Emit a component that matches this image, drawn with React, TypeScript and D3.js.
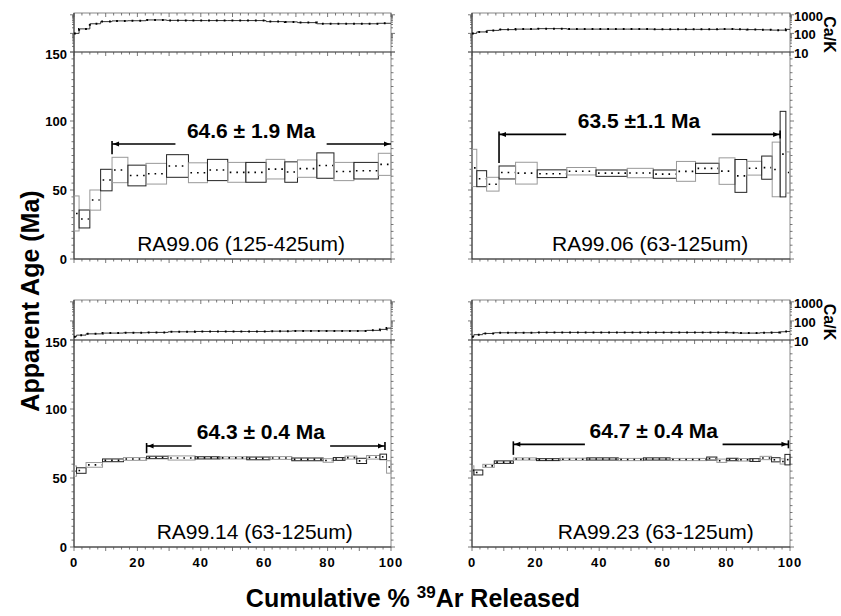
import React from 'react';
import * as d3 from 'd3';

// step boundaries (cumulative % 39Ar), apparent ages, 1-sigma errors and Ca/K for each sample
const bounds1 = [0, 1.6, 5, 8.4, 12, 17, 22.7, 29.2, 36.1, 42.1, 48.5, 54.2, 60.6, 66.5, 70.5, 76.6, 82, 88.3, 96, 100];
const ages1 = [33, 29, 42.7, 57.2, 64.5, 60.5, 61.8, 67.4, 62.5, 64.5, 62.8, 62.8, 65.1, 63, 65.5, 67.7, 63.4, 64, 68.6];
const errs1 = [12.7, 6.5, 7.3, 7.8, 9.2, 7.5, 7.5, 8.2, 7.2, 7.7, 7.2, 7.2, 7.1, 7.4, 6.3, 9.2, 6.6, 6, 8];
const calk1 = [100, 175, 330, 430, 470, 480, 530, 500, 490, 490, 490, 490, 430, 415, 380, 330, 330, 330, 350];

const bounds2 = [0, 1.5, 4.6, 8.5, 13.7, 20.5, 29.8, 39, 48.8, 57, 64.3, 70.3, 77.7, 82.7, 86.4, 91.1, 94.4, 96.9, 98.7, 100];
const ages2 = [66, 58.2, 54.2, 62.7, 62.2, 61.8, 63.6, 62.2, 62.3, 61.5, 63.5, 65.7, 63.7, 60.2, 65.8, 66.2, 64.9, 76, 62.7];
const errs2 = [13.5, 5.8, 5, 4.7, 7.9, 2.8, 2.7, 2.3, 3.4, 3, 7.2, 3.7, 9.6, 11.9, 5, 8.4, 19.8, 31, 14.9];
const calk2 = [100, 120, 145, 160, 170, 180, 170, 170, 170, 165, 165, 165, 170, 165, 160, 155, 150, 150, 165];

const bounds3 = [0, 0.8, 3.8, 9, 15.6, 22.9, 29.7, 38.2, 46, 54.5, 61.8, 68.7, 78.6, 81.8, 85.5, 89.2, 92.3, 96.5, 98.6, 100];
const ages3 = [55, 55.4, 59.5, 62.8, 63.8, 64.9, 64.5, 64.6, 64.6, 64.2, 64.5, 63.5, 62.7, 63.8, 64.8, 62.4, 65, 65.3, 58];
const errs3 = [3.7, 2, 1.7, 1, 1, 0.9, 1.5, 0.8, 0.8, 1, 1, 1, 1.3, 1, 1.1, 1.9, 1.3, 2, 4.5];
const calk3 = [15, 18, 21, 23, 24, 25, 27, 28, 28, 28, 29, 30, 30, 30, 30, 30, 32, 36, 42];

const bounds4 = [0, 0.6, 3.4, 7, 13, 20.3, 27.7, 36.1, 46, 53.9, 62.3, 73.8, 77, 80.1, 83.7, 87.4, 90.6, 94.2, 96.9, 98.4, 100];
const ages4 = [55.5, 54, 58.8, 61.5, 63.8, 63.3, 63.6, 63.8, 63.4, 63.8, 63.4, 64.1, 62.5, 63.4, 63.2, 63, 64.5, 63.2, 62, 63.3];
const errs4 = [3.3, 1.8, 1.1, 0.9, 0.8, 0.7, 0.8, 0.8, 0.8, 0.8, 0.8, 1.1, 1.2, 0.9, 0.9, 1, 1.2, 1.5, 1.9, 3.8];
const calk4 = [15, 19, 22, 24, 24, 25, 25, 25, 25, 25, 25, 25, 25, 24, 23, 23, 24, 25, 27, 28];

const sampleNames = ['RA99.06 (125-425um)', 'RA99.06 (63-125um)', 'RA99.14 (63-125um)', 'RA99.23 (63-125um)'];
const plateauLabels = ['64.6 ± 1.9 Ma', '63.5 ±1.1 Ma', '64.3 ± 0.4 Ma', '64.7 ± 0.4 Ma'];
const plateauFrom = [12, 8.5, 22.9, 13];
const plateauTo = [100, 96.9, 98.1, 99.5];
const plateauLevel = [83.3, 90.3, 73.2, 74.4];
const plateauGap = [[32, 79.7], [29.6, 75.4], [37.1, 80.8], [35.5, 78.8]];

const ageTicks = [0, 50, 100, 150];
const xTicks = [0, 20, 40, 60, 80, 100];
const caTicks = [10, 100, 1000];

// layout
const cols = [{ x0: 74, x1: 391 }, { x0: 472, x1: 790 }];
const rows = [{ caTop: 13, sep: 52, bottom: 259 }, { caTop: 300, sep: 340, bottom: 547 }];
const labelX = [52.7, 56, 57, 57.8];
const FONT = '"Liberation Sans", Arial, sans-serif';

const panels = [
  { b: bounds1, a: ages1, e: errs1, c: calk1 },
  { b: bounds2, a: ages2, e: errs2, c: calk2 },
  { b: bounds3, a: ages3, e: errs3, c: calk3 },
  { b: bounds4, a: ages4, e: errs4, c: calk4 },
];

function Panel({ idx }: { idx: number }) {
  const { b, a, e, c } = panels[idx];
  const col = cols[idx % 2];
  const row = rows[Math.floor(idx / 2)];
  const left = idx % 2 === 0;
  const bottomRow = idx >= 2;

  const x = d3.scaleLinear().domain([0, 100]).range([col.x0, col.x1]);
  const age = d3.scaleLinear().domain([0, 150]).range([row.bottom, row.sep]);
  const ca = d3.scaleLog().domain([10, 1250]).range([row.sep, row.caTop]);

  const xMinor = d3.range(0, 100.01, 2.5);
  const ageMinor = d3.range(0, 150.01, 5);
  const caMinor = [20, 30, 40, 50, 60, 70, 80, 90, 200, 300, 400, 500, 600, 700, 800, 900];

  const caPts = c.map((v, i) => [b[i], v] as [number, number]);
  caPts.push([b[b.length - 1], c[c.length - 1]]);
  const caLine = d3.line<[number, number]>()
    .x(d => x(d[0]))
    .y(d => ca(d[1]))
    .curve(d3.curveStepAfter)(caPts) || '';

  // plateau arrow
  const ly = age(plateauLevel[idx]);
  const pf = plateauFrom[idx], pt = plateauTo[idx];
  const [g0, g1] = plateauGap[idx];
  const firstStep = b.findIndex(v => Math.abs(v - pf) < 0.5);
  const barEnd = age(a[firstStep] + e[firstStep]) - 3;

  return (
    <g>
      {/* frame */}
      <rect x={col.x0} y={row.caTop} width={col.x1 - col.x0} height={row.bottom - row.caTop}
        fill="none" stroke="#888" strokeWidth={1} />
      <line x1={col.x0} x2={col.x1} y1={row.sep} y2={row.sep} stroke="#222" strokeWidth={1.2} />
      <line x1={col.x0} x2={col.x0} y1={row.caTop} y2={row.bottom} stroke="#333" strokeWidth={1} />
      <line x1={col.x0} x2={col.x1} y1={row.bottom} y2={row.bottom} stroke="#333" strokeWidth={1} />

      {/* x ticks */}
      {xMinor.map(v => {
        const len = v % 10 === 0 ? 4 : 2.5;
        return (
          <g key={'xt' + v} stroke="#555" strokeWidth={0.8}>
            <line x1={x(v)} x2={x(v)} y1={row.bottom} y2={row.bottom + len} />
            <line x1={x(v)} x2={x(v)} y1={row.sep} y2={row.sep + len} />
            <line x1={x(v)} x2={x(v)} y1={row.caTop} y2={row.caTop + len} />
          </g>
        );
      })}
      {/* age ticks */}
      {ageMinor.map(v => {
        const len = v % 50 === 0 ? 4 : 2.5;
        return (
          <g key={'at' + v} stroke="#555" strokeWidth={0.8}>
            <line x1={col.x0 - len} x2={col.x0} y1={age(v)} y2={age(v)} />
            <line x1={col.x1} x2={col.x1 + len} y1={age(v)} y2={age(v)} />
          </g>
        );
      })}
      {/* Ca/K ticks */}
      {caTicks.concat(caMinor).filter(v => ca(v) >= row.caTop).map(v => {
        const len = caTicks.includes(v) ? 4 : 2;
        return (
          <g key={'ct' + v} stroke="#555" strokeWidth={0.8}>
            <line x1={col.x0 - len} x2={col.x0} y1={ca(v)} y2={ca(v)} />
            <line x1={col.x1} x2={col.x1 + len} y1={ca(v)} y2={ca(v)} />
          </g>
        );
      })}

      {/* Ca/K spectrum */}
      <path d={caLine} fill="none" stroke="#333" strokeWidth={1} />
      <path d={caLine} fill="none" stroke="#000" strokeWidth={2} strokeDasharray="1.8 6" />

      {/* age spectrum boxes */}
      {a.map((v, i) => {
        const xa = x(b[i]), xb = x(b[i + 1]);
        const yt = age(v + e[i]), yb = age(v - e[i]);
        return (
          <g key={'s' + i}>
            <rect x={xa} y={yt} width={xb - xa} height={yb - yt} fill="none"
              stroke={i % 2 === 0 ? '#999' : '#222'} strokeWidth={1} />
            <line x1={xa + 2} x2={xb - 1} y1={age(v)} y2={age(v)} stroke="#000"
              strokeWidth={1.6} strokeDasharray="1.6 5" />
          </g>
        );
      })}

      {/* plateau */}
      <g stroke="#000" strokeWidth={1.6}>
        <line x1={x(pf)} x2={x(g0)} y1={ly} y2={ly} />
        <line x1={x(g1)} x2={x(pt)} y1={ly} y2={ly} />
        <line x1={x(pf)} x2={x(pf)} y1={ly - 3} y2={barEnd} />
        {pt < 100 && <line x1={x(pt)} x2={x(pt)} y1={ly - 4} y2={ly + 4} />}
      </g>
      <polygon points={`${x(pf) + 1},${ly} ${x(pf) + 7},${ly - 2.5} ${x(pf) + 7},${ly + 2.5}`} fill="#000" />
      <polygon points={`${x(pt) - 1},${ly} ${x(pt) - 7},${ly - 2.5} ${x(pt) - 7},${ly + 2.5}`} fill="#000" />
      <text x={x((g0 + g1) / 2)} y={ly - 6.5} textAnchor="middle" fontFamily={FONT}
        fontWeight="bold" fontSize={21}>{plateauLabels[idx]}</text>

      <text x={x(labelX[idx])} y={row.bottom - 8} textAnchor="middle" fontFamily={FONT}
        fontSize={21}>{sampleNames[idx]}</text>

      {/* tick labels */}
      {left && ageTicks.map(v => (
        <text key={'al' + v} x={col.x0 - 7} y={age(v) + (v === 150 ? 2 : 0)} dy="0.35em" textAnchor="end"
          fontFamily={FONT} fontWeight="bold" fontSize={13}>{v}</text>
      ))}
      {!left && caTicks.map(v => (
        <text key={'cl' + v} x={col.x1 + 4} y={ca(v) + 1.5} dy="0.35em" textAnchor="start"
          fontFamily={FONT} fontWeight="bold" fontSize={13}>{v}</text>
      ))}
      {!left && (
        <text transform={`translate(${col.x1 + 40},${(row.caTop + row.sep) / 2 + 2}) rotate(90)`}
          textAnchor="middle" dy="0.35em" fontFamily={FONT} fontWeight="bold" fontSize={16}>Ca/K</text>
      )}
      {bottomRow && xTicks.map(v => (
        <text key={'xl' + v} x={x(v)} y={row.bottom + 15} dy="0.35em" textAnchor="middle"
          fontFamily={FONT} fontWeight="bold" fontSize={13} letterSpacing={1}>{v}</text>
      ))}
    </g>
  );
}

export default function App() {
  return (
    <svg width={841} height={616} style={{ position: 'absolute', left: 0, top: 0, background: '#fff' }}>
      <rect width={841} height={616} fill="#fff" />
      {[0, 1, 2, 3].map(i => <Panel key={i} idx={i} />)}
      <text transform="translate(39,301) rotate(-90)" textAnchor="middle" fontFamily={FONT}
        fontWeight="bold" fontSize={25}>Apparent Age (Ma)</text>
      <text x={413} y={607} textAnchor="middle" fontFamily={FONT} fontWeight="bold" fontSize={25}>
        Cumulative % <tspan fontSize={17} dy={-9}>39</tspan><tspan dy={9}>Ar Released</tspan>
      </text>
    </svg>
  );
}
